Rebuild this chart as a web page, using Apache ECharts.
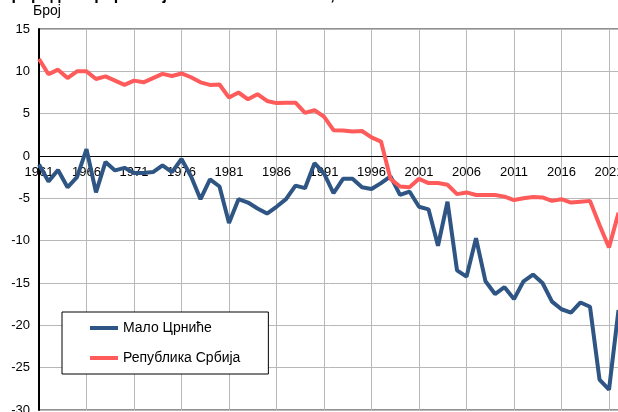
<!DOCTYPE html>
<html>
<head>
<meta charset="utf-8">
<script src="https://cdn.jsdelivr.net/npm/echarts@6/dist/echarts.min.js"></script>
<style>html,body{margin:0;padding:0;background:#fff}#c{width:618px;height:412px}</style>
</head>
<body>
<div id="c"></div>
<script>
var years = [];
for (var y = 1961; y <= 2022; y++) years.push(String(y));

var maloCrnice = [-1.0,-3.0,-1.65,-3.7,-2.5,0.8,-4.3,-0.7,-1.7,-1.4,
  -2.0,-2.0,-1.9,-1.1,-1.9,-0.35,-2.4,-5.1,-2.75,-3.6,
  -7.9,-5.1,-5.5,-6.2,-6.8,-6.0,-5.1,-3.5,-3.8,-0.85,
  -2.05,-4.4,-2.7,-2.7,-3.7,-3.9,-3.2,-2.4,-4.6,-4.2,
  -6.0,-6.3,-10.6,-5.4,-13.5,-14.25,-9.7,-14.8,-16.3,-15.5,
  -16.9,-14.8,-14.0,-15.0,-17.2,-18.1,-18.5,-17.3,-17.8,-26.4,
  -27.6,-18.2];

var srbija = [11.45,9.65,10.2,9.2,10.0,10.0,9.1,9.4,8.9,8.4,
  8.9,8.7,9.2,9.7,9.45,9.75,9.3,8.7,8.4,8.45,
  6.9,7.5,6.7,7.3,6.5,6.25,6.3,6.3,5.1,5.4,
  4.65,3.05,3.0,2.9,2.95,2.2,1.7,-2.7,-3.6,-3.7,
  -2.7,-3.2,-3.2,-3.4,-4.5,-4.3,-4.6,-4.6,-4.6,-4.8,
  -5.2,-5.0,-4.85,-4.9,-5.3,-5.1,-5.5,-5.4,-5.3,-8.15,
  -10.8,-6.7];

var seriesNames = ['Мало Црниће', 'Република Србија'];
var titleText = 'Природни прираштај на 1.000 становника, 1961-2022.';
var yName = 'Број';

var font = '"Liberation Sans", Arial, sans-serif';
var chart = echarts.init(document.getElementById('c'), null, {renderer: 'canvas'});
chart.setOption({
  animation: false,
  backgroundColor: '#fff',
  textStyle: {fontFamily: font},
  title: {
    text: titleText, left: 0, top: -12, padding: 0,
    textStyle: {fontFamily: font, fontSize: 16, fontWeight: 'bold', color: '#000'}
  },
  graphic: [{
    type: 'text', left: 33, top: 4,
    style: {text: yName, font: '14px ' + font, fill: '#000'}
  }],
  grid: {
    left: 39, top: 29, width: 579.5, height: 381,
    show: true, borderColor: '#222', borderWidth: 1, backgroundColor: 'transparent',
    containLabel: false, outerBoundsMode: 'none'
  },
  legend: {
    orient: 'vertical', left: 62, top: 312,
    padding: [9, 28, 9, 28], itemGap: 16,
    backgroundColor: '#fff', borderColor: '#000', borderWidth: 1,
    icon: 'rect', itemWidth: 28, itemHeight: 4,
    textStyle: {fontFamily: font, fontSize: 14, color: '#000'},
    data: seriesNames
  },
  xAxis: {
    type: 'category', data: years, boundaryGap: false,
    position: 'bottom', offset: -254, z: 0,
    axisLine: {onZero: false, lineStyle: {color: '#000', width: 1}},
    axisTick: {show: false},
    axisLabel: {interval: 4, margin: 10, fontFamily: font, fontSize: 13, color: '#000', hideOverlap: false},
    splitLine: {show: true, interval: 4, lineStyle: {color: '#b8b8b8', width: 1}}
  },
  yAxis: {
    type: 'value', min: -30, max: 15, interval: 5,
    axisLine: {show: true, lineStyle: {color: '#000', width: 2}},
    axisTick: {show: false},
    axisLabel: {margin: 9, fontFamily: font, fontSize: 13, color: '#000'},
    splitLine: {show: true, lineStyle: {color: '#b8b8b8', width: 1}}
  },
  series: [
    {name: seriesNames[0], type: 'line', data: maloCrnice, showSymbol: false, symbol: 'none',
     lineStyle: {color: '#2e5583', width: 4}, itemStyle: {color: '#2e5583'}, z: 3},
    {name: seriesNames[1], type: 'line', data: srbija, showSymbol: false, symbol: 'none',
     lineStyle: {color: '#ff5b5b', width: 4}, itemStyle: {color: '#ff5b5b'}, z: 4}
  ]
});
</script>
</body>
</html>
